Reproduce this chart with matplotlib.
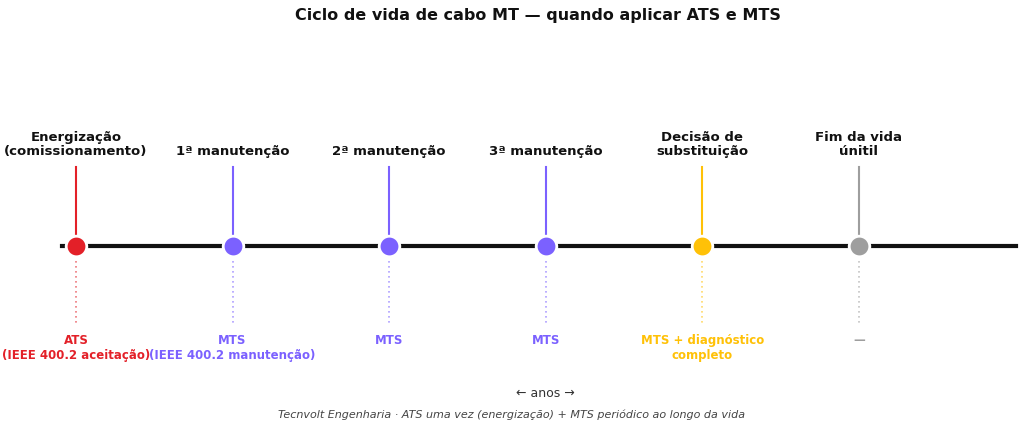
import matplotlib
matplotlib.use("Agg")
import matplotlib.pyplot as plt

stages = ["Energização\n(comissionamento)", "1ª manutenção", "2ª manutenção",
          "3ª manutenção", "Decisão de\nsubstituição", "Fim da vida\núnitil"]
tests = ["ATS\n(IEEE 400.2 aceitação)", "MTS\n(IEEE 400.2 manutenção)", "MTS", "MTS",
         "MTS + diagnóstico\ncompleto", "—"]
colors = ["#e32028", "#7b61ff", "#7b61ff", "#7b61ff", "#ffc107", "#9e9e9e"]
positions = [0, 1, 2, 3, 4, 5]

fig = plt.figure(figsize=(10.24, 4.3), dpi=100)
ax = fig.add_axes([0, 0, 1, 1])
ax.set_xlim(-0.485, 6.054)
ax.set_ylim(430, 0)
ax.axis("off")

ax.plot([-0.09, 6.0], [246, 246], color="#111111", lw=3, zorder=1)
for x, s, t, c in zip(positions, stages, tests, colors):
    ax.plot([x, x], [167, 246], color=c, lw=1.5, zorder=2)
    ax.plot([x, x], [246, 325], color=c, lw=1.2, ls=(0, (1, 2)), alpha=0.6, zorder=2)
    ax.scatter([x], [246], s=220, color=c, edgecolor="white", linewidth=2, zorder=3)
    ax.text(x, 158, s, ha="center", va="bottom", fontsize=9.5, fontweight="bold",
            color="#111111", linespacing=1.1)
    ax.text(x, 334, t, ha="center", va="top", fontsize=8.5, fontweight="bold",
            color=c, linespacing=1.15)

fig.text(0.525, 0.965, "Ciclo de vida de cabo MT — quando aplicar ATS e MTS",
         ha="center", va="center", fontsize=11.5, fontweight="bold", color="#111111")
fig.text(0.533, 0.086, "← anos →", ha="center", va="center", fontsize=9, color="#333333")
fig.text(0.5, 0.035, "Tecnvolt Engenharia · ATS uma vez (energização) + MTS periódico ao longo da vida",
         ha="center", va="center", fontsize=8, style="italic", color="#444444")
fig.savefig("out.png", dpi=100)
